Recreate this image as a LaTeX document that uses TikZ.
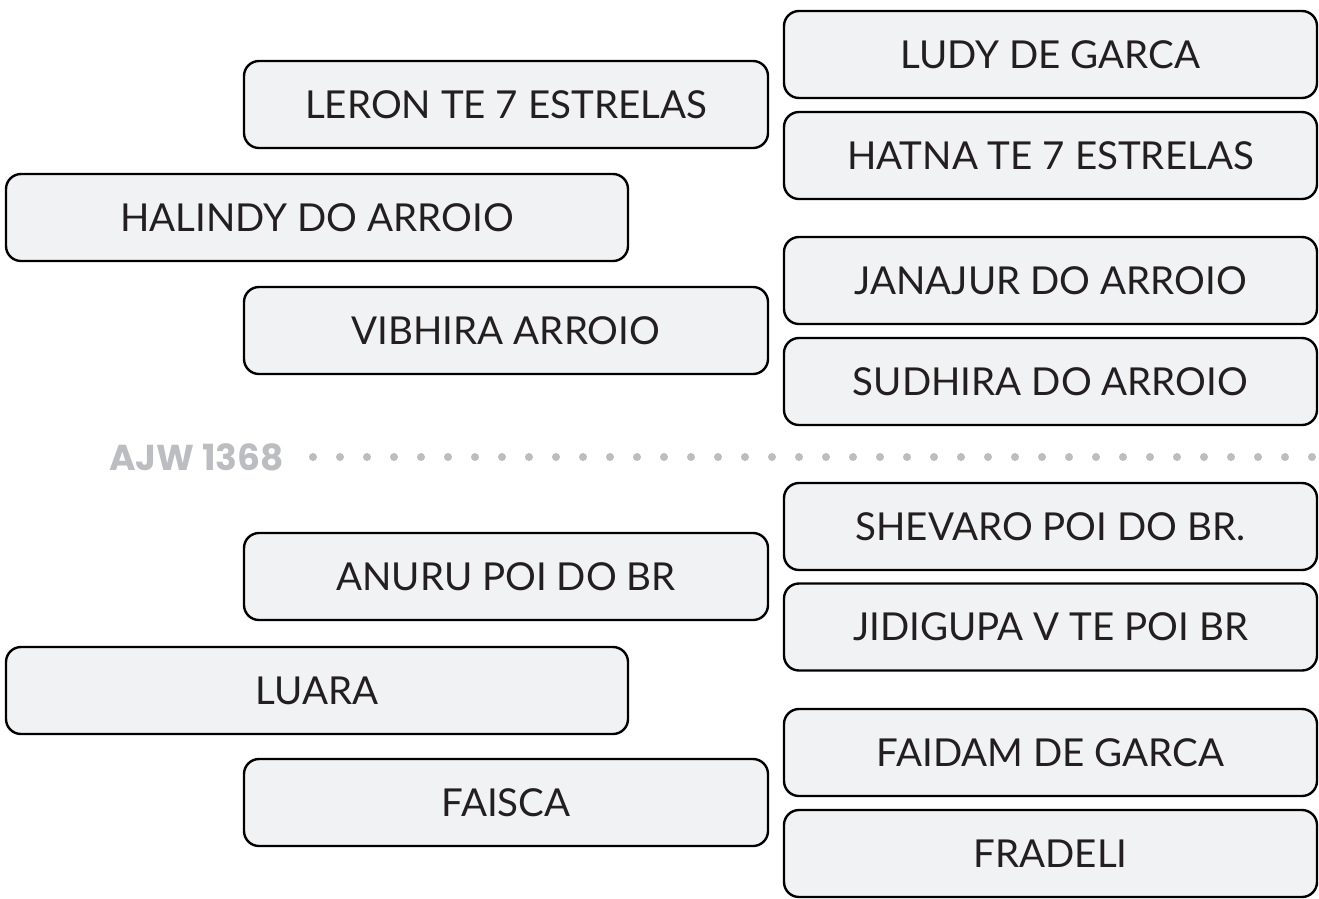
\documentclass[tikz,border=0pt]{standalone}
\usepackage{fontspec}
\setmainfont{Lato}
\newfontfamily\tagfont{Poppins}
\definecolor{boxfill}{HTML}{F1F2F4}
\definecolor{boxtext}{HTML}{231F20}
\definecolor{dotgray}{HTML}{BCBDC0}

\begin{document}
\begin{tikzpicture}[x=1pt,y=-1pt,
    namebox/.style={draw=black,line width=2.4pt,fill=boxfill,rounded corners=15pt,
      minimum height=87pt,text=boxtext,font=\fontsize{38.5}{42}\selectfont,inner sep=0pt,
      text depth=-5pt},
    rightbox/.style={namebox,minimum width=533pt},
    midbox/.style={namebox,minimum width=524pt},
    leftbox/.style={namebox,minimum width=622pt}]
            \useasboundingbox (0,0) rectangle (1319,898);
            % right column
            \node[rightbox] (ludy) at (1050.5,54.5) {LUDY DE GARCA};
            \node[rightbox] (hatna) at (1050.5,155.5) {HATNA TE 7 ESTRELAS};
            \node[rightbox] (janajur) at (1050.5,280.5) {JANAJUR DO ARROIO};
            \node[rightbox] (sudhira) at (1050.5,381.5) {SUDHIRA DO ARROIO};
            \node[rightbox] (shevaro) at (1050.5,526.5) {SHEVARO POI DO BR.};
            \node[rightbox] (jidigupa) at (1050.5,627) {JIDIGUPA V TE POI BR};
            \node[rightbox] (faidam) at (1050.5,752.5) {FAIDAM DE GARCA};
            \node[rightbox] (fradeli) at (1050.5,853.5) {FRADELI};
            % middle column
            \node[midbox] (leron) at (506,104.5) {LERON TE 7 ESTRELAS};
            \node[midbox] (vibhira) at (506,330.5) {VIBHIRA ARROIO};
            \node[midbox] (anuru) at (506,576.5) {ANURU POI DO BR};
            \node[midbox] (faisca) at (506,802.5) {FAISCA};
            % left column
            \node[leftbox] (halindy) at (317,217.5) {HALINDY DO ARROIO};
            \node[leftbox] (luara) at (317,690.5) {LUARA};
            % divider
            \node[anchor=east,text=dotgray,inner sep=0pt,font=\tagfont\bfseries\fontsize{36}{40}\selectfont] (tag) at (284,457) {AJW 1368};
            \foreach \i in {0,...,37}
              \fill[dotgray] (313+27*\i,457) circle (4pt);
        \end{tikzpicture}
\end{document}
